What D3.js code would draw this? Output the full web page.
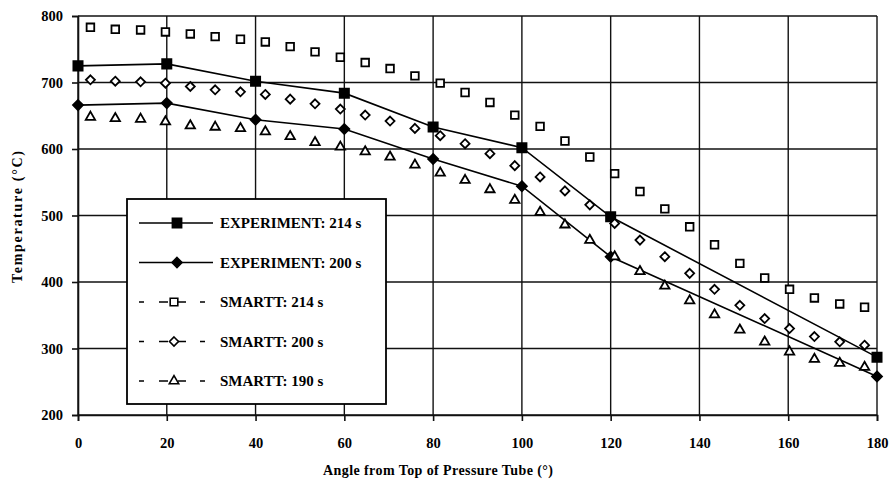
<!DOCTYPE html>
<html>
<head>
<meta charset="utf-8">
<script src="https://cdn.jsdelivr.net/npm/d3@7"></script>
<style>
  body { margin: 0; background: #fff; }
  svg text { font-family: "Liberation Serif", "Times New Roman", serif; font-weight: bold; fill: #000; }
</style>
</head>
<body>
<div id="chart"></div>
<script>
// values
const expAngles = [0, 20, 40, 60, 80, 100, 120, 180]
const exp214 = [725, 728, 702, 684, 633, 602, 498, 287]
const exp200 = [666, 669, 644, 630, 585, 544, 438, 258]

const simAngles = [2.8, 8.4, 14.1, 19.7, 25.3, 30.9, 36.6, 42.2, 47.8, 53.4, 59.1, 64.7, 70.3, 75.9, 81.6, 87.2,
  92.8, 98.4, 104.1, 109.7, 115.3, 120.9, 126.6, 132.2, 137.8, 143.4, 149.1, 154.7, 160.3, 165.9, 171.6, 177.2]
const sim214 = [783, 780, 779, 776, 773, 769, 765, 761, 754, 746, 738, 730, 721, 710, 699, 685,
  670, 651, 634, 612, 588, 563, 536, 510, 483, 456, 428, 406, 389, 376, 367, 362]
const sim200 = [704, 702, 701, 699, 694, 689, 686, 682, 675, 668, 660, 651, 642, 631, 620, 608,
  593, 575, 558, 537, 516, 488, 463, 438, 413, 389, 365, 345, 330, 318, 310, 305]
const sim190 = [648, 646, 645, 641, 635, 633, 631, 626, 619, 610, 603, 596, 588, 576, 564, 553,
  539, 523, 505, 486, 463, 438, 416, 394, 372, 351, 328, 310, 295, 284, 278, 272]

const xTicks = [0, 20, 40, 60, 80, 100, 120, 140, 160, 180]
const yTicks = [200, 300, 400, 500, 600, 700, 800]

const legendLabels = ["EXPERIMENT: 214 s", "EXPERIMENT: 200 s", "SMARTT: 214 s", "SMARTT: 200 s", "SMARTT: 190 s"]

const width = 894, height = 489
const margin = { top: 16, right: 17, bottom: 74, left: 78 }

const svg = d3.select("#chart").append("svg")
  .attr("width", width)
  .attr("height", height)

const x = d3.scaleLinear().domain([0, 180]).range([margin.left, width - margin.right])
const y = d3.scaleLinear().domain([200, 800]).range([height - margin.bottom, margin.top])

// grid
const grid = svg.append("g").attr("stroke", "#111").attr("stroke-width", 1.4)
grid.selectAll(".hg").data(yTicks).enter().append("line")
  .attr("x1", x(0)).attr("x2", x(180))
  .attr("y1", d => y(d)).attr("y2", d => y(d))
grid.selectAll(".vg").data(xTicks).enter().append("line")
  .attr("x1", d => x(d)).attr("x2", d => x(d))
  .attr("y1", y(200)).attr("y2", y(800))

// axes
const xAxis = svg.append("g")
  .attr("transform", `translate(0,${y(200)})`)
  .call(d3.axisBottom(x).tickValues(xTicks).tickSize(6).tickPadding(17).tickFormat(d3.format("d")))
const yAxis = svg.append("g")
  .attr("transform", `translate(${x(0)},0)`)
  .call(d3.axisLeft(y).tickValues(yTicks).tickSize(6).tickPadding(9).tickFormat(d3.format("d")))

for (const ax of [xAxis, yAxis]) {
  ax.select(".domain").attr("stroke", "#111").attr("stroke-width", 1.6)
  ax.selectAll(".tick line").attr("stroke", "#111").attr("stroke-width", 1.6)
  ax.selectAll("text").attr("font-size", "14.5px").attr("font-family", null)
}

svg.append("text")
  .attr("x", 438)
  .attr("y", 475)
  .attr("text-anchor", "middle")
  .attr("font-size", "14px")
  .attr("textLength", 230)
  .text("Angle from Top of Pressure Tube  (°)")

svg.append("text")
  .attr("transform", `translate(22,217) rotate(-90)`)
  .attr("text-anchor", "middle")
  .attr("font-size", "14px")
  .attr("textLength", 132)
  .text("Temperature  (°C)")

// marks
const sym = (type, size) => d3.symbol().type(type).size(size)()
const diamond = r => `M0,${-r}L${r},0L0,${r}L${-r},0Z`

const series = [
  { xs: expAngles, ys: exp214, line: true, shape: sym(d3.symbolSquare, 85), fill: "#000" },
  { xs: expAngles, ys: exp200, line: true, shape: diamond(5), fill: "#000" },
  { xs: simAngles, ys: sim214, line: false, shape: sym(d3.symbolSquare, 58), fill: "#fff" },
  { xs: simAngles, ys: sim200, line: false, shape: diamond(4.5), fill: "#fff" },
  { xs: simAngles, ys: sim190, line: false, shape: sym(d3.symbolTriangle, 38), fill: "#fff" }
]

const lineGen = d3.line().x(d => x(d[0])).y(d => y(d[1]))

series.forEach(s => {
  const pts = s.xs.map((a, i) => [a, s.ys[i]])
  if (s.line) {
    svg.append("path")
      .datum(pts)
      .attr("d", lineGen)
      .attr("fill", "none")
      .attr("stroke", "#000")
      .attr("stroke-width", 1.6)
  }
  svg.append("g").selectAll("path").data(pts).enter().append("path")
    .attr("d", s.shape)
    .attr("transform", d => `translate(${x(d[0])},${y(d[1])})`)
    .attr("fill", s.fill)
    .attr("stroke", "#000")
    .attr("stroke-width", 1.8)
})

// legend
const lg = svg.append("g").attr("transform", "translate(127,199)")
lg.append("rect")
  .attr("width", 259).attr("height", 205)
  .attr("fill", "#fff").attr("stroke", "#000").attr("stroke-width", 1.8)

legendLabels.forEach((label, i) => {
  const row = lg.append("g").attr("transform", `translate(0,${24 + i * 39.5})`)
  const s = series[i]
  const mx = s.line ? 50 : 47
  row.append("line")
    .attr("x1", 12).attr("x2", s.line ? 86 : 79)
    .attr("stroke", "#000").attr("stroke-width", 1.5)
    .attr("stroke-dasharray", s.line ? null : "5,15,9,10,8,14,5")
  row.append("path")
    .attr("d", s.shape)
    .attr("transform", `translate(${mx},0)`)
    .attr("fill", s.fill)
    .attr("stroke", "#000")
    .attr("stroke-width", 1.6)
  row.append("text")
    .attr("x", 93).attr("y", 5)
    .attr("font-size", "15px")
    .text(label)
})
</script>
</body>
</html>
